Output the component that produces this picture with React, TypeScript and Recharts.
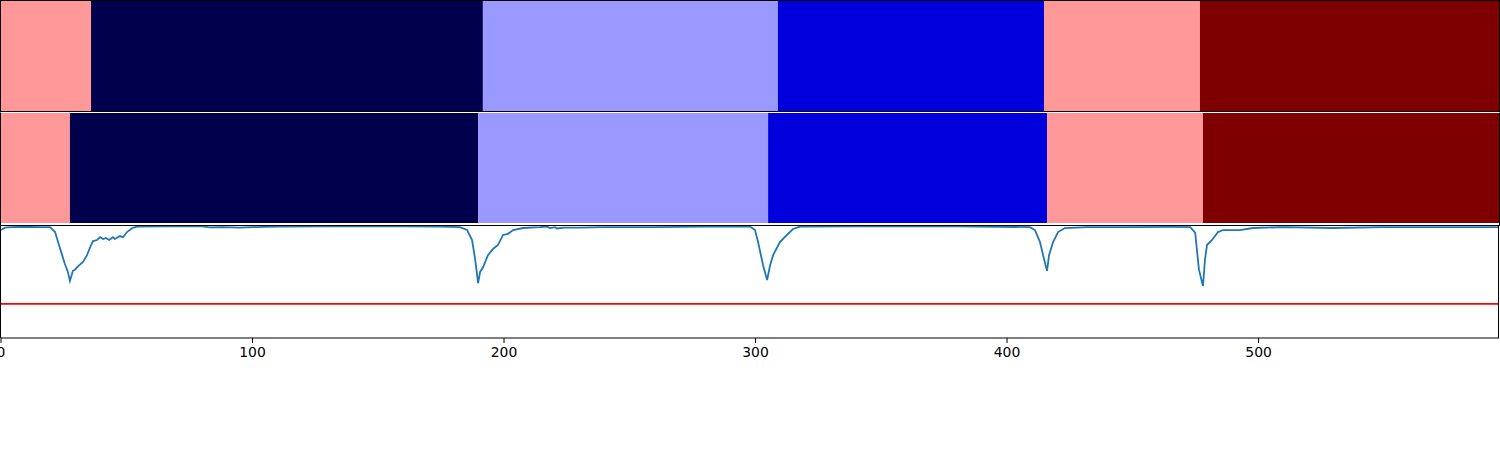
import { BarChart, Bar, ComposedChart, Line, XAxis, YAxis, ReferenceLine } from "recharts";

// x extent shared by all three panels
const xMax = 595.6;

// segment colours (seismic colormap steps) for both bands
const bandColors = ["#ff9999", "#00004c", "#9999ff", "#0000dd", "#ff9999", "#7f0000"];
// segment edges, in the same x units as the bottom plot
const band1Edges = [0, 35.8, 191.6, 308.9, 414.7, 476.7, xMax];
const band2Edges = [0, 27.4, 189.7, 305.0, 415.9, 477.9, xMax];

// bottom trace
const traceX = [
  0, 1.5, 4, 10, 15, 19.5, 21.5, 22.7, 24.3, 25.4, 26.6, 27.4, 28.6, 29.4, 30.6, 32.6, 34.2, 35.8, 36.6, 38.2,
  39.4, 40.6, 41.7, 43.0, 44.5, 45.3, 47.3, 48.5, 50.1, 52.1, 54, 65, 80, 83, 88, 95, 100, 110, 130, 160,
  174.6, 182.5, 185.3, 187.3, 188.5, 189.7, 190.5, 191.7, 193.6, 195.6, 197.6, 199.6, 201.6, 203.6, 207.6,
  214.3, 217, 218.3, 220.3, 221, 224, 230, 240, 260, 280, 297.8, 299.8, 301, 303, 304.6, 305.8, 307, 309.7,
  312.5, 314.9, 317.7, 340, 380, 409.1, 411.1, 413.1, 414.7, 415.9, 416.7, 418.3, 420.3, 423, 431.8, 450,
  465, 472.8, 474.8, 476.3, 477.9, 478.7, 479.5, 481.5, 483.9, 485.9, 492.6, 497.8, 509.7, 529.6, 549.5,
  569.4, 595.6,
];
const traceY = [
  0.964, 0.985, 0.99, 0.993, 0.99, 0.99, 0.946, 0.857, 0.74, 0.66, 0.59, 0.51, 0.6, 0.61, 0.64, 0.68, 0.74, 0.83, 0.866, 0.875,
  0.9, 0.884, 0.893, 0.875, 0.9, 0.884, 0.91, 0.9, 0.946, 0.98, 0.995, 0.997, 0.996, 0.988, 0.99, 0.986, 0.99, 0.995, 0.997, 0.997,
  0.995, 0.99, 0.964, 0.875, 0.705, 0.49, 0.59, 0.634, 0.74, 0.795, 0.83, 0.92, 0.93, 0.964, 0.982,
  0.99, 0.995, 0.982, 0.99, 0.978, 0.985, 0.985, 0.99, 0.99, 0.995, 0.995, 0.964, 0.857, 0.65, 0.518, 0.65, 0.74, 0.857,
  0.92, 0.973, 0.995, 0.997, 0.997, 0.99, 0.964, 0.857, 0.705, 0.6, 0.74, 0.857, 0.946, 0.982, 0.99, 0.99,
  0.992, 0.99, 0.94, 0.61, 0.464, 0.7, 0.83, 0.875, 0.946, 0.964, 0.964, 0.982, 0.99, 0.982, 0.99,
  0.99, 0.99,
];
const threshold = 0.305;
const xTicks = [0, 100, 200, 300, 400, 500];

const font = "DejaVu Sans, sans-serif";

function bandRow(edges: number[]) {
  const row: Record<string, number | string> = { name: "band" };
  for (let i = 0; i < edges.length - 1; i++) row["s" + i] = edges[i + 1] - edges[i];
  return [row];
}

function Band({ edges }: { edges: number[] }) {
  return (
    <BarChart
      width={1498}
      height={110}
      layout="vertical"
      data={bandRow(edges)}
      margin={{ top: 0, right: 0, bottom: 0, left: 0 }}
      barCategoryGap={0}
    >
      <XAxis type="number" hide domain={[0, xMax]} />
      <YAxis type="category" dataKey="name" hide />
      {bandColors.map((c, i) => (
        <Bar key={i} dataKey={"s" + i} stackId="a" fill={c} isAnimationActive={false} />
      ))}
    </BarChart>
  );
}

export default function App() {
  const trace = traceX.map((x, i) => ({ x, y: traceY[i] }));
  return (
    <div style={{ position: "absolute", left: 0, top: 0, width: 1500, height: 450, background: "#fff", fontFamily: font }}>
      <div style={{ position: "absolute", left: 0, top: 0, width: 1500, height: 112, border: "1px solid #000", boxSizing: "border-box" }}>
        <Band edges={band1Edges} />
      </div>
      <div
        style={{
          position: "absolute",
          left: 0,
          top: 112,
          width: 1500,
          height: 114,
          border: "1px solid #000",
          borderTopColor: "#fff",
          boxSizing: "border-box",
        }}
      >
        <Band edges={band2Edges} />
      </div>
      <div style={{ position: "absolute", left: 0, top: 226 }}>
        <ComposedChart width={1500} height={160} data={trace} margin={{ top: 0, right: 1, bottom: 0, left: 1 }}>
          <XAxis
            dataKey="x"
            type="number"
            domain={[0, xMax]}
            ticks={xTicks}
            interval={0}
            allowDataOverflow
            height={48}
            tickSize={5}
            tickMargin={4}
            stroke="#000"
            tick={{ fill: "#000", fontSize: 13.9, fontFamily: font }}
          />
          <YAxis type="number" domain={[0, 1]} hide allowDataOverflow />
          <ReferenceLine y={threshold} stroke="#ff0000" strokeWidth={1.6} />
          <Line
            dataKey="y"
            type="linear"
            stroke="#1f77b4"
            strokeWidth={1.8}
            dot={false}
            isAnimationActive={false}
          />
        </ComposedChart>
      </div>
      <div
        style={{
          position: "absolute",
          left: 0,
          top: 226,
          width: 1499,
          height: 112,
          borderLeft: "1px solid #000",
          borderRight: "1px solid #000",
          boxSizing: "border-box",
          pointerEvents: "none",
        }}
      />
    </div>
  );
}
